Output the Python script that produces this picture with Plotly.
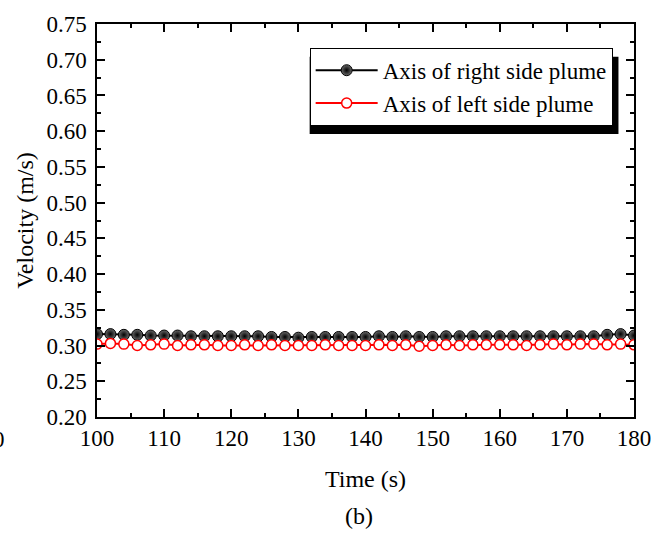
import plotly.graph_objects as go

time_s = list(range(100, 182, 2))
right_plume = [0.316, 0.316, 0.315, 0.315, 0.314, 0.314, 0.314, 0.313, 0.313, 0.313,
               0.313, 0.313, 0.313, 0.312, 0.312, 0.311, 0.312, 0.312, 0.312, 0.312,
               0.312, 0.313, 0.312, 0.313, 0.312, 0.312, 0.313, 0.313, 0.313, 0.313,
               0.313, 0.313, 0.313, 0.313, 0.313, 0.313, 0.313, 0.313, 0.315, 0.316,
               0.314]
left_plume = [0.302, 0.303, 0.302, 0.300, 0.301, 0.302, 0.300, 0.301, 0.301, 0.300,
              0.300, 0.301, 0.300, 0.301, 0.300, 0.300, 0.300, 0.301, 0.300, 0.300,
              0.300, 0.301, 0.300, 0.301, 0.299, 0.300, 0.301, 0.300, 0.301, 0.301,
              0.301, 0.301, 0.300, 0.301, 0.302, 0.301, 0.302, 0.302, 0.301, 0.302,
              0.301]
x_ticks = list(range(100, 190, 10))
y_ticks = [round(0.20 + 0.05 * i, 2) for i in range(12)]

FONT = "Liberation Serif, Times New Roman, serif"

fig = go.Figure()
fig.add_trace(go.Scatter(
    x=time_s, y=right_plume, mode="lines+markers", name="Axis of right side plume",
    line=dict(color="black", width=2),
    marker=dict(symbol="circle", size=11, color="#6a6a6a",
                gradient=dict(type="radial", color="black"),
                line=dict(color="black", width=1)),
))
fig.add_trace(go.Scatter(
    x=time_s, y=left_plume, mode="lines+markers", name="Axis of left side plume",
    line=dict(color="red", width=2),
    marker=dict(symbol="circle", size=10, color="white",
                line=dict(color="red", width=1.5)),
))

W, H = 663, 533
L, R, T, B = 97, 13, 20, 116
pw, ph = W - L - R, H - T - B

def px_x(p):
    return (p - L) / pw

def px_y(p):
    return (H - B - p) / ph

# legend shadow
fig.add_shape(type="rect", xref="paper", yref="paper",
              x0=px_x(316), x1=px_x(634), y0=px_y(131), y1=px_y(53),
              fillcolor="black", line=dict(width=0), layer="above")

axis_common = dict(
    showline=True, linecolor="black", linewidth=1.5, mirror="allticks",
    ticks="inside", ticklen=8, tickwidth=1.5, tickcolor="black",
    showgrid=False, zeroline=False,
    tickfont=dict(family=FONT, size=23, color="black"),
)

fig.update_xaxes(range=[100, 180], tickvals=x_ticks, ticklabeloverflow="allow",
                 minor=dict(ticks="inside", ticklen=4, tickwidth=1.5, tickcolor="black", dtick=5, tick0=100),
                 title=dict(text="Time (s)", font=dict(family=FONT, size=24, color="black"), standoff=20),
                 **axis_common)
fig.update_yaxes(range=[0.20, 0.75], tickvals=y_ticks, tickformat=".2f", ticklabelstandoff=4,
                 minor=dict(ticks="inside", ticklen=4, tickwidth=1.5, tickcolor="black", dtick=0.025, tick0=0.2),
                 title=dict(text="Velocity (m/s)", font=dict(family=FONT, size=24, color="black"), standoff=6),
                 **axis_common)

fig.add_annotation(text="(b)", xref="paper", yref="paper", x=px_x(367), y=px_y(517),
                   xanchor="center", yanchor="middle",
                   showarrow=False, font=dict(family=FONT, size=24, color="black"))
fig.add_annotation(text="180", xref="paper", yref="paper", x=px_x(4), y=px_y(440),
                   xanchor="right", yanchor="middle", showarrow=False,
                   font=dict(family=FONT, size=23, color="black"))

fig.update_layout(
    width=W, height=H,
    margin=dict(l=L, r=R, t=T, b=B),
    paper_bgcolor="white", plot_bgcolor="white",
    showlegend=True,
    legend=dict(x=px_x(316), y=px_y(44), xanchor="left", yanchor="top",
                bgcolor="white", bordercolor="black", borderwidth=1,
                font=dict(family=FONT, size=23, color="black"),
                itemwidth=62, tracegroupgap=0),
)

fig.write_html("out.html")
